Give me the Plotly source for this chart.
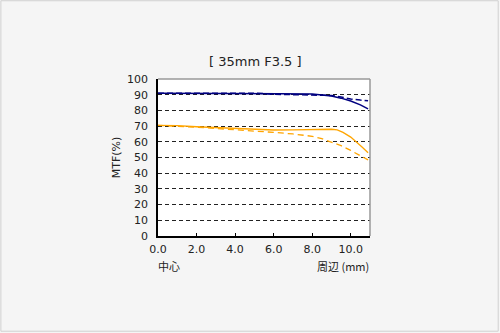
import plotly.graph_objects as go

# data
x_blue_s = [0, 2, 4, 6, 6.3, 8, 8.5, 9, 9.5, 10, 10.5, 10.9]
y_blue_s = [91, 91, 91, 91, 90.6, 90.5, 90, 89.2, 87.8, 86, 83.5, 81]
x_blue_d = [0, 2, 3, 4, 5, 6, 7, 8, 9, 9.5, 10, 10.5, 10.9]
y_blue_d = [91, 91, 91.3, 91.2, 91, 90.3, 90, 90.1, 89.5, 88.5, 87.3, 86.6, 86.2]
x_or_s = [0, 1, 2, 3, 4, 5, 6, 7, 8, 8.5, 9, 9.3, 9.6, 10, 10.3, 10.6, 10.9]
y_or_s = [70.5, 70.3, 69.6, 69, 68.3, 67.8, 67.5, 67.6, 68, 68, 68, 67.6, 66, 63, 60, 56.5, 53]
x_or_d = [0, 1, 2, 3, 4, 5, 6, 7, 8, 8.5, 9, 9.5, 10, 10.5, 10.9]
y_or_d = [70.5, 70, 69.3, 68.5, 67.8, 67, 66, 65, 63.5, 62, 60, 57.5, 54.5, 51, 48.5]
x_ticks = [0, 2, 4, 6, 8, 10]
x_labels = ["0.0", "2.0", "4.0", "6.0", "8.0", "10.0"]
y_ticks = [0, 10, 20, 30, 40, 50, 60, 70, 80, 90, 100]

BLUE = "#000080"
ORANGE = "#FFA500"

fig = go.Figure()
fig.add_trace(go.Scatter(x=x_or_d, y=y_or_d, mode="lines",
                         line=dict(color=ORANGE, width=1.3, dash="6px,4px")))
fig.add_trace(go.Scatter(x=x_or_s, y=y_or_s, mode="lines",
                         line=dict(color=ORANGE, width=1.3)))
fig.add_trace(go.Scatter(x=x_blue_d, y=y_blue_d, mode="lines",
                         line=dict(color=BLUE, width=1.5, dash="6px,3px")))
fig.add_trace(go.Scatter(x=x_blue_s, y=y_blue_s, mode="lines",
                         line=dict(color=BLUE, width=1.5)))

font = "DejaVu Sans, Verdana, sans-serif"
L, R, T, B = 158, 370.5, 79, 236.5
W, H = R - L, B - T

def px(xp):
    return (xp - L) / W

def py(yp):
    return (B - yp) / H

fig.update_layout(
    width=500, height=333,
    margin=dict(l=L, r=500 - R, t=T, b=333 - B),
    paper_bgcolor="#f5f5f5", plot_bgcolor="white",
    showlegend=False,
    font=dict(family=font, size=11, color="#222"),
    xaxis=dict(range=[0, 11], tickvals=x_ticks, ticktext=x_labels,
               showgrid=False, zeroline=False, showline=True,
               linecolor="black", linewidth=1.5,
               ticks="inside", ticklen=3, tickcolor="black",
               ticklabelstandoff=2,
               tickfont=dict(size=11, color="#222"), fixedrange=True),
    yaxis=dict(range=[0, 100], tickvals=y_ticks,
               showgrid=True, gridcolor="#222", gridwidth=1, griddash="4px,3px",
               zeroline=False, showline=True, linecolor="black", linewidth=1.5,
               ticks="", ticklabelstandoff=6,
               tickfont=dict(size=11, color="#222"), fixedrange=True,
               title=dict(text="MTF(%)", font=dict(size=11, color="#222"), standoff=4)),
)

# top/right border of plot (gray) covering the 100 gridline
fig.add_shape(type="line", xref="paper", yref="paper", x0=0, x1=1, y0=1, y1=1,
              line=dict(color="#999999", width=1.5))
fig.add_shape(type="line", xref="paper", yref="paper", x0=1, x1=1, y0=0, y1=1,
              line=dict(color="#999999", width=1.5))
# outer frame
fig.add_shape(type="rect", xref="paper", yref="paper",
              x0=px(0.5), x1=px(499), y0=py(332), y1=py(0.5),
              line=dict(color="#d0d0d0", width=1), layer="below")

fig.add_annotation(text="[ 35mm F3.5 ]", xref="paper", yref="paper",
                   x=px(256), y=py(61), xanchor="center", yanchor="middle",
                   showarrow=False,
                   font=dict(family=font, size=13, color="#222"))
fig.add_annotation(text="中心", xref="paper", yref="paper",
                   x=px(156), y=py(267), xanchor="left", yanchor="middle",
                   showarrow=False,
                   font=dict(family="Noto Sans CJK JP", size=11, color="#222"))
fig.add_annotation(text="周辺 (mm)", xref="paper", yref="paper",
                   x=px(372), y=py(267), xanchor="right", yanchor="middle",
                   showarrow=False,
                   font=dict(family="Noto Sans CJK JP", size=11, color="#222"))

fig.write_html("out.html")
